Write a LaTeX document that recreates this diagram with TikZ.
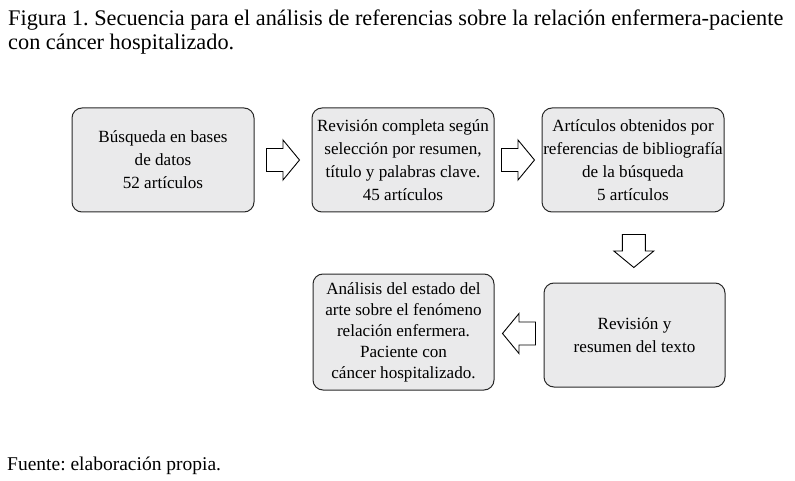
\documentclass[tikz,border=0pt]{standalone}
\usepackage{fontspec}
\setmainfont{Liberation Serif}
\usetikzlibrary{calc}
\frenchspacing
\definecolor{boxfill}{RGB}{234,234,235}
\definecolor{boxline}{RGB}{40,40,40}
\tikzset{
  box/.style={draw=boxline, fill=boxfill, rounded corners=10pt, line width=1pt,
    align=center, inner sep=0pt, minimum width=182pt, minimum height=104pt,
    font=\fontsize{17.1}{23}\selectfont},
  txt/.style={anchor=base west, inner sep=0pt, font=\fontsize{22.3}{24}\selectfont},
  arrowline/.style={draw=black, fill=white, line width=0.9pt, line join=miter},
  blockarr/.pic={\path[arrowline] (-16.5,-11.5) -- (0,-11.5) -- (0,-20) -- (16.5,0)
      -- (0,20) -- (0,11.5) -- (-16.5,11.5) -- cycle;}
}
\begin{document}
\begin{tikzpicture}[x=1pt,y=-1pt]
\useasboundingbox (0,0) rectangle (795,481);
\node[txt] (t1) at (8,26) {Figura 1. Secuencia para el análisis de referencias sobre la relación enfermera-paciente};
\node[txt] (t2) at (8,50) {con cáncer hospitalizado.};
\node[box] (b1) at (163,160) {Búsqueda en bases\\de datos\\52 artículos};
\node[box] (b2) at (403,160) {Revisión completa según\\selección por resumen,\\título y palabras clave.\\45 artículos};
\node[box] (b3) at (633,160) {Artículos obtenidos por\\referencias de bibliografía\\de la búsqueda\\5 artículos};
\node[box, minimum width=181pt] (b5) at (634.5,335) {Revisión y\\resumen del texto};
\node[box, minimum width=181pt, minimum height=116pt, font=\fontsize{17.1}{21}\selectfont] (b4) at (403.5,332) {Análisis del estado del\\arte sobre el fenómeno\\relación enfermera.\\Paciente con\\cáncer hospitalizado.};
\coordinate (a1) at ($(b1.east)!0.5!(b2.west)$);
\coordinate (a2) at ($(b2.east)!0.5!(b3.west)$);
\coordinate (a3) at ($(b3.south)!0.55!(b5.north)$);
\coordinate (a4) at ($(b5.west)!0.5!(b4.east)$);
\pic at (a1) {blockarr};
\pic at (a2) {blockarr};
\pic[rotate=-90] at (a3) {blockarr};
\pic[rotate=180] at (a4) {blockarr};
\node[txt, font=\fontsize{19.5}{22}\selectfont] (f1) at (7,470) {Fuente: elaboración propia.};
\end{tikzpicture}
\end{document}
